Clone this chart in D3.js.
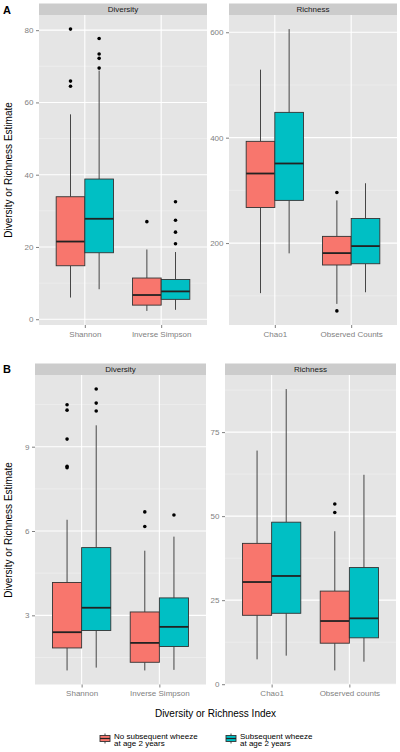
<!DOCTYPE html>
<html><head><meta charset="utf-8">
<script src="https://cdn.jsdelivr.net/npm/d3@7"></script>
<style>body{margin:0;background:#fff;}svg{display:block;font-family:"Liberation Sans",Arial,Helvetica,sans-serif;}</style>
</head><body>
<svg id="c" width="400" height="752"></svg>
<script>
// ---------------- DATA ----------------
const groups = ["No subsequent wheeze at age 2 years", "Subsequent wheeze at age 2 years"];
const groupColors = ["#F8766D", "#00BFC4"];

const catsDiversityA = ["Shannon", "Inverse Simpson"];
const catsRichnessA  = ["Chao1", "Observed Counts"];
const catsDiversityB = ["Shannon", "Inverse Simpson"];
const catsRichnessB  = ["Chao1", "Observed counts"];

// box stats per category: [whisker low, Q1, median, Q3, whisker high]
const A_div_no   = [[6.0, 14.8, 21.5, 33.9, 56.7], [2.3, 3.9, 6.7, 11.4, 19.3]];
const A_div_yes  = [[8.3, 18.4, 27.8, 38.8, 68.8], [2.6, 5.5, 7.7, 11.0, 18.6]];
const A_div_no_out  = [[80.3, 65.9, 64.5], [27.0]];
const A_div_yes_out = [[77.7, 73.4, 72.2, 69.5], [32.5, 27.4, 24.1, 20.9]];

const A_rich_no   = [[105, 267.5, 332, 393, 529], [84.6, 158.4, 181, 212.7, 281]];
const A_rich_yes  = [[180.5, 281, 351, 448, 606], [106.7, 160.8, 194.3, 246.7, 313.5]];
const A_rich_no_out  = [[], [296, 71.3]];
const A_rich_yes_out = [[], []];

const B_div_no   = [[1.04, 1.84, 2.40, 4.17, 6.40], [1.04, 1.33, 2.02, 3.12, 5.30]];
const B_div_yes  = [[1.14, 2.46, 3.27, 5.41, 9.76], [1.06, 1.89, 2.59, 3.62, 5.80]];
const B_div_no_out  = [[10.49, 10.30, 9.27, 8.25, 8.30], [6.68, 6.16]];
const B_div_yes_out = [[11.05, 10.55, 10.27], [6.57]];

const B_rich_no   = [[7.4, 20.5, 30.4, 41.9, 69.5], [4.1, 12.2, 18.8, 27.7, 45.5]];
const B_rich_yes  = [[8.5, 21.1, 32.2, 48.2, 87.8], [6.7, 13.8, 19.6, 34.7, 62.3]];
const B_rich_no_out  = [[], [53.6, 51.1]];
const B_rich_yes_out = [[], []];

const ticksDiversityA = [0, 20, 40, 60, 80];
const ticksRichnessA  = [200, 400, 600];
const ticksDiversityB = [3, 6, 9];
const ticksRichnessB  = [0, 25, 50, 75];

const stripLabels = ["Diversity", "Richness"];
const yTitle = "Diversity or Richness Estimate";
const xTitle = "Diversity or Richness Index";
const legendLines = [["No subsequent wheeze", "at age 2 years"], ["Subsequent wheeze", "at age 2 years"]];

// ---------------- LAYOUT ----------------
const panels = [
  {x0: 39, x1: 207, y0: 15, y1: 325, strip: stripLabels[0], cats: catsDiversityA, no: A_div_no, yes: A_div_yes, noOut: A_div_no_out, yesOut: A_div_yes_out, ticks: ticksDiversityA},
  {x0: 229, x1: 397, y0: 15, y1: 325, strip: stripLabels[1], cats: catsRichnessA, no: A_rich_no, yes: A_rich_yes, noOut: A_rich_no_out, yesOut: A_rich_yes_out, ticks: ticksRichnessA},
  {x0: 35, x1: 206, y0: 375, y1: 684.5, strip: stripLabels[0], cats: catsDiversityB, no: B_div_no, yes: B_div_yes, noOut: B_div_no_out, yesOut: B_div_yes_out, ticks: ticksDiversityB},
  {x0: 225, x1: 396, y0: 375, y1: 684.5, strip: stripLabels[1], cats: catsRichnessB, no: B_rich_no, yes: B_rich_yes, noOut: B_rich_no_out, yesOut: B_rich_yes_out, ticks: ticksRichnessB}
];
const stripH = 11.5;

const svg = d3.select("#c");

panels.forEach(p => {
  const g = svg.append("g");
  // y scale with ggplot-like 5% expansion
  const all = [];
  [p.no, p.yes].forEach(arr => arr.forEach(s => all.push(s[0], s[4])));
  [p.noOut, p.yesOut].forEach(arr => arr.forEach(o => all.push(...o)));
  const mn = d3.min(all), mx = d3.max(all), ex = (mx - mn) * 0.05;
  const y = d3.scaleLinear().domain([mn - ex, mx + ex]).range([p.y1, p.y0]);
  const x = d3.scalePoint().domain(p.cats).range([p.x0, p.x1]).padding(0.6);
  const step = x.step();
  const dodge = d3.scaleBand().domain(groups).range([-0.375 * step, 0.375 * step]);
  const bw = dodge.bandwidth();

  // strip
  g.append("rect").attr("x", p.x0).attr("y", p.y0 - stripH).attr("width", p.x1 - p.x0).attr("height", stripH).attr("fill", "#CCCCCC");
  g.append("text").attr("x", (p.x0 + p.x1) / 2).attr("y", p.y0 - 3).attr("text-anchor", "middle").attr("font-size", 8).attr("fill", "#1a1a1a").text(p.strip);

  // panel bg
  g.append("rect").attr("x", p.x0).attr("y", p.y0).attr("width", p.x1 - p.x0).attr("height", p.y1 - p.y0).attr("fill", "#E5E5E5");

  // minor grid
  const tstep = p.ticks[1] - p.ticks[0];
  const dom = y.domain();
  const minors = [];
  for (let v = p.ticks[0] - tstep / 2; v <= dom[1]; v += tstep) if (v >= dom[0]) minors.push(v);
  g.selectAll(".mn").data(minors).join("line").attr("x1", p.x0).attr("x2", p.x1).attr("y1", d => y(d)).attr("y2", d => y(d)).attr("stroke", "#F2F2F2").attr("stroke-width", 0.6);
  // major grid
  g.selectAll(".mj").data(p.ticks).join("line").attr("x1", p.x0).attr("x2", p.x1).attr("y1", d => y(d)).attr("y2", d => y(d)).attr("stroke", "#FFFFFF").attr("stroke-width", 1.1);
  g.selectAll(".vx").data(p.cats).join("line").attr("x1", d => x(d)).attr("x2", d => x(d)).attr("y1", p.y0).attr("y2", p.y1).attr("stroke", "#FFFFFF").attr("stroke-width", 1.1);

  // y axis
  const ya = g.append("g").attr("transform", `translate(${p.x0},0)`)
    .call(d3.axisLeft(y).tickValues(p.ticks).tickSize(3).tickPadding(2.5).tickFormat(d3.format("d")));
  ya.select(".domain").remove();
  ya.selectAll("line").attr("stroke", "#7F7F7F");
  ya.selectAll("text").attr("fill", "#7F7F7F").attr("font-size", 8).attr("font-family", null);
  // x axis
  const xa = g.append("g").attr("transform", `translate(0,${p.y1})`)
    .call(d3.axisBottom(x).tickSize(3).tickPadding(3));
  xa.select(".domain").remove();
  xa.selectAll("line").attr("stroke", "#7F7F7F");
  xa.selectAll("text").attr("fill", "#7F7F7F").attr("font-size", 8).attr("font-family", null);

  // boxes
  [[p.no, p.noOut, 0], [p.yes, p.yesOut, 1]].forEach(([stats, outs, gi]) => {
    p.cats.forEach((c, ci) => {
      const s = stats[ci];
      const cx = x(c) + dodge(groups[gi]) + bw / 2;
      const left = x(c) + dodge(groups[gi]);
      g.append("line").attr("x1", cx).attr("x2", cx).attr("y1", y(s[0])).attr("y2", y(s[1])).attr("stroke", "#333").attr("stroke-width", 0.9);
      g.append("line").attr("x1", cx).attr("x2", cx).attr("y1", y(s[3])).attr("y2", y(s[4])).attr("stroke", "#333").attr("stroke-width", 0.9);
      g.append("rect").attr("x", left).attr("y", y(s[3])).attr("width", bw).attr("height", y(s[1]) - y(s[3]))
        .attr("fill", groupColors[gi]).attr("stroke", "#333").attr("stroke-width", 0.9);
      g.append("line").attr("x1", left).attr("x2", left + bw).attr("y1", y(s[2])).attr("y2", y(s[2])).attr("stroke", "#222").attr("stroke-width", 1.8);
      g.selectAll(null).data(outs[ci]).join("circle").attr("cx", cx).attr("cy", d => y(d)).attr("r", 1.8).attr("fill", "#000");
    });
  });
});

// panel letters
svg.append("text").attr("x", 3).attr("y", 14).attr("font-size", 11).attr("font-weight", "bold").text("A");
svg.append("text").attr("x", 3).attr("y", 373).attr("font-size", 11).attr("font-weight", "bold").text("B");

// y titles
[[170], [530]].forEach(([cy]) => {
  svg.append("text").attr("transform", `translate(12,${cy}) rotate(-90)`).attr("text-anchor", "middle").attr("font-size", 10).text(yTitle);
});
// x title
svg.append("text").attr("x", 215.5).attr("y", 717).attr("text-anchor", "middle").attr("font-size", 10).text(xTitle);

// legend
const legendX = [100, 226];
groups.forEach((gname, i) => {
  const lx = legendX[i];
  const lg = svg.append("g");
  const cx = lx + 5;
  lg.append("line").attr("x1", cx).attr("x2", cx).attr("y1", 733.5).attr("y2", 743.5).attr("stroke", "#333").attr("stroke-width", 0.9);
  lg.append("rect").attr("x", lx).attr("y", 735.5).attr("width", 10).attr("height", 6).attr("fill", groupColors[i]).attr("stroke", "#333").attr("stroke-width", 0.9);
  lg.append("line").attr("x1", lx).attr("x2", lx + 10).attr("y1", 738.5).attr("y2", 738.5).attr("stroke", "#222").attr("stroke-width", 1.2);
  lg.append("text").attr("x", lx + 14).attr("y", 738.5).attr("font-size", 8).text(legendLines[i][0]);
  lg.append("text").attr("x", lx + 14).attr("y", 746).attr("font-size", 8).text(legendLines[i][1]);
});
</script>
</body></html>
